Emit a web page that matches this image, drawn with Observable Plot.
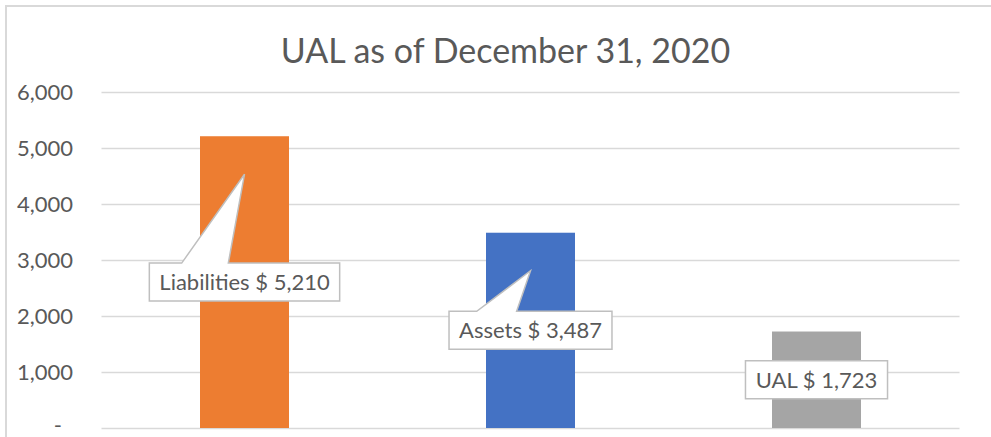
<!DOCTYPE html>
<html><head><meta charset="utf-8">
<script src="https://cdn.jsdelivr.net/npm/d3@7"></script>
<script src="https://cdn.jsdelivr.net/npm/@observablehq/plot@0.6"></script>
<style>
html,body{margin:0;padding:0;background:#fff;}
#chart{position:relative;width:991px;height:437px;overflow:hidden;}
#border{position:absolute;left:5px;top:5px;width:1100px;height:600px;border:2px solid #D9D9D9;box-sizing:border-box;}
#chart svg{position:absolute;left:0;top:0;}
</style></head><body><div id="chart"><div id="border"></div></div>
<script>
const categories = ["Liabilities", "Assets", "UAL"];
const values = [5210, 3487, 1723];
const colors = ["#ED7D31", "#4472C4", "#A5A5A5"];
const yTicks = [0, 1000, 2000, 3000, 4000, 5000, 6000];
const titleText = "UAL as of December 31, 2020";

const FONT = "Lato, 'Open Sans', sans-serif";
const TEXT = "#595959";
const LABEL_SIZE = 22;
const fmt = d => d === 0 ? "-" : d3.format(",")(d);
const data = categories.map((c, i) => ({
  cat: c, value: values[i], color: colors[i],
  label: `${c} $ ${d3.format(",")(values[i])}`
}));

function callouts(index, scales) {
  const ns = "http://www.w3.org/2000/svg";
  const g = document.createElementNS(ns, "g");
  const bw = scales.x.bandwidth ? scales.x.bandwidth() : 0;
  const ctx = document.createElement("canvas").getContext("2d");
  ctx.font = `${LABEL_SIZE}px ${FONT}`;
  for (const d of data) {
    const cx = scales.x(d.cat) + bw / 2;
    const cy = scales.y(d.value / 2);
    const tw = ctx.measureText(d.label).width;
    const w = tw + 20, h = 38;
    const L = cx - w / 2, R = cx + w / 2, T = cy - h / 2, B = cy + h / 2;
    const apexY = scales.y(d.value) + 38;
    const p = apexY < T - 2
      ? `M${L},${T}H${cx - 0.33 * w}L${cx},${apexY}L${cx - 0.085 * w},${T}H${R}V${B}H${L}Z`
      : `M${L},${T}H${R}V${B}H${L}Z`;
    const path = document.createElementNS(ns, "path");
    path.setAttribute("d", p);
    path.setAttribute("fill", "#fff");
    path.setAttribute("stroke", "#BFBFBF");
    path.setAttribute("stroke-width", "1.5");
    g.appendChild(path);
    const t = document.createElementNS(ns, "text");
    t.setAttribute("x", cx);
    t.setAttribute("y", cy);
    t.setAttribute("dy", "0.36em");
    t.setAttribute("text-anchor", "middle");
    t.setAttribute("fill", TEXT);
    t.setAttribute("font-size", LABEL_SIZE);
    t.setAttribute("font-family", FONT);
    t.textContent = d.label;
    g.appendChild(t);
  }
  return g;
}

const chart = Plot.plot({
  width: 991,
  height: 437,
  marginLeft: 101.5,
  marginRight: 31.5,
  marginTop: 92,
  marginBottom: 9,
  style: {fontFamily: FONT, background: "transparent", overflow: "visible"},
  x: {domain: categories, paddingInner: 0.69, paddingOuter: 0.345, axis: null},
  y: {domain: [0, 6000], axis: null},
  color: {type: "identity"},
  marks: [
    Plot.gridY(yTicks, {stroke: "#D9D9D9", strokeOpacity: 1, strokeWidth: 1.3}),
    Plot.axisY(yTicks.filter(d => d > 0), {
      tickSize: 0, tickPadding: 29, fontSize: 22, color: TEXT, label: null,
      tickFormat: fmt
    }),
    Plot.text(yTicks.filter(d => d === 0), {
      y: d => d, text: fmt, frameAnchor: "left", textAnchor: "end",
      dx: -40, dy: -3, fontSize: 22, fill: TEXT
    }),
    Plot.barY(data, {x: "cat", y: "value", fill: "color"}),
    callouts,
    Plot.text([titleText], {frameAnchor: "top", dx: -25.5, dy: -54, fontSize: 34, fill: TEXT})
  ]
});
document.getElementById("chart").appendChild(chart);
</script>
</body></html>
